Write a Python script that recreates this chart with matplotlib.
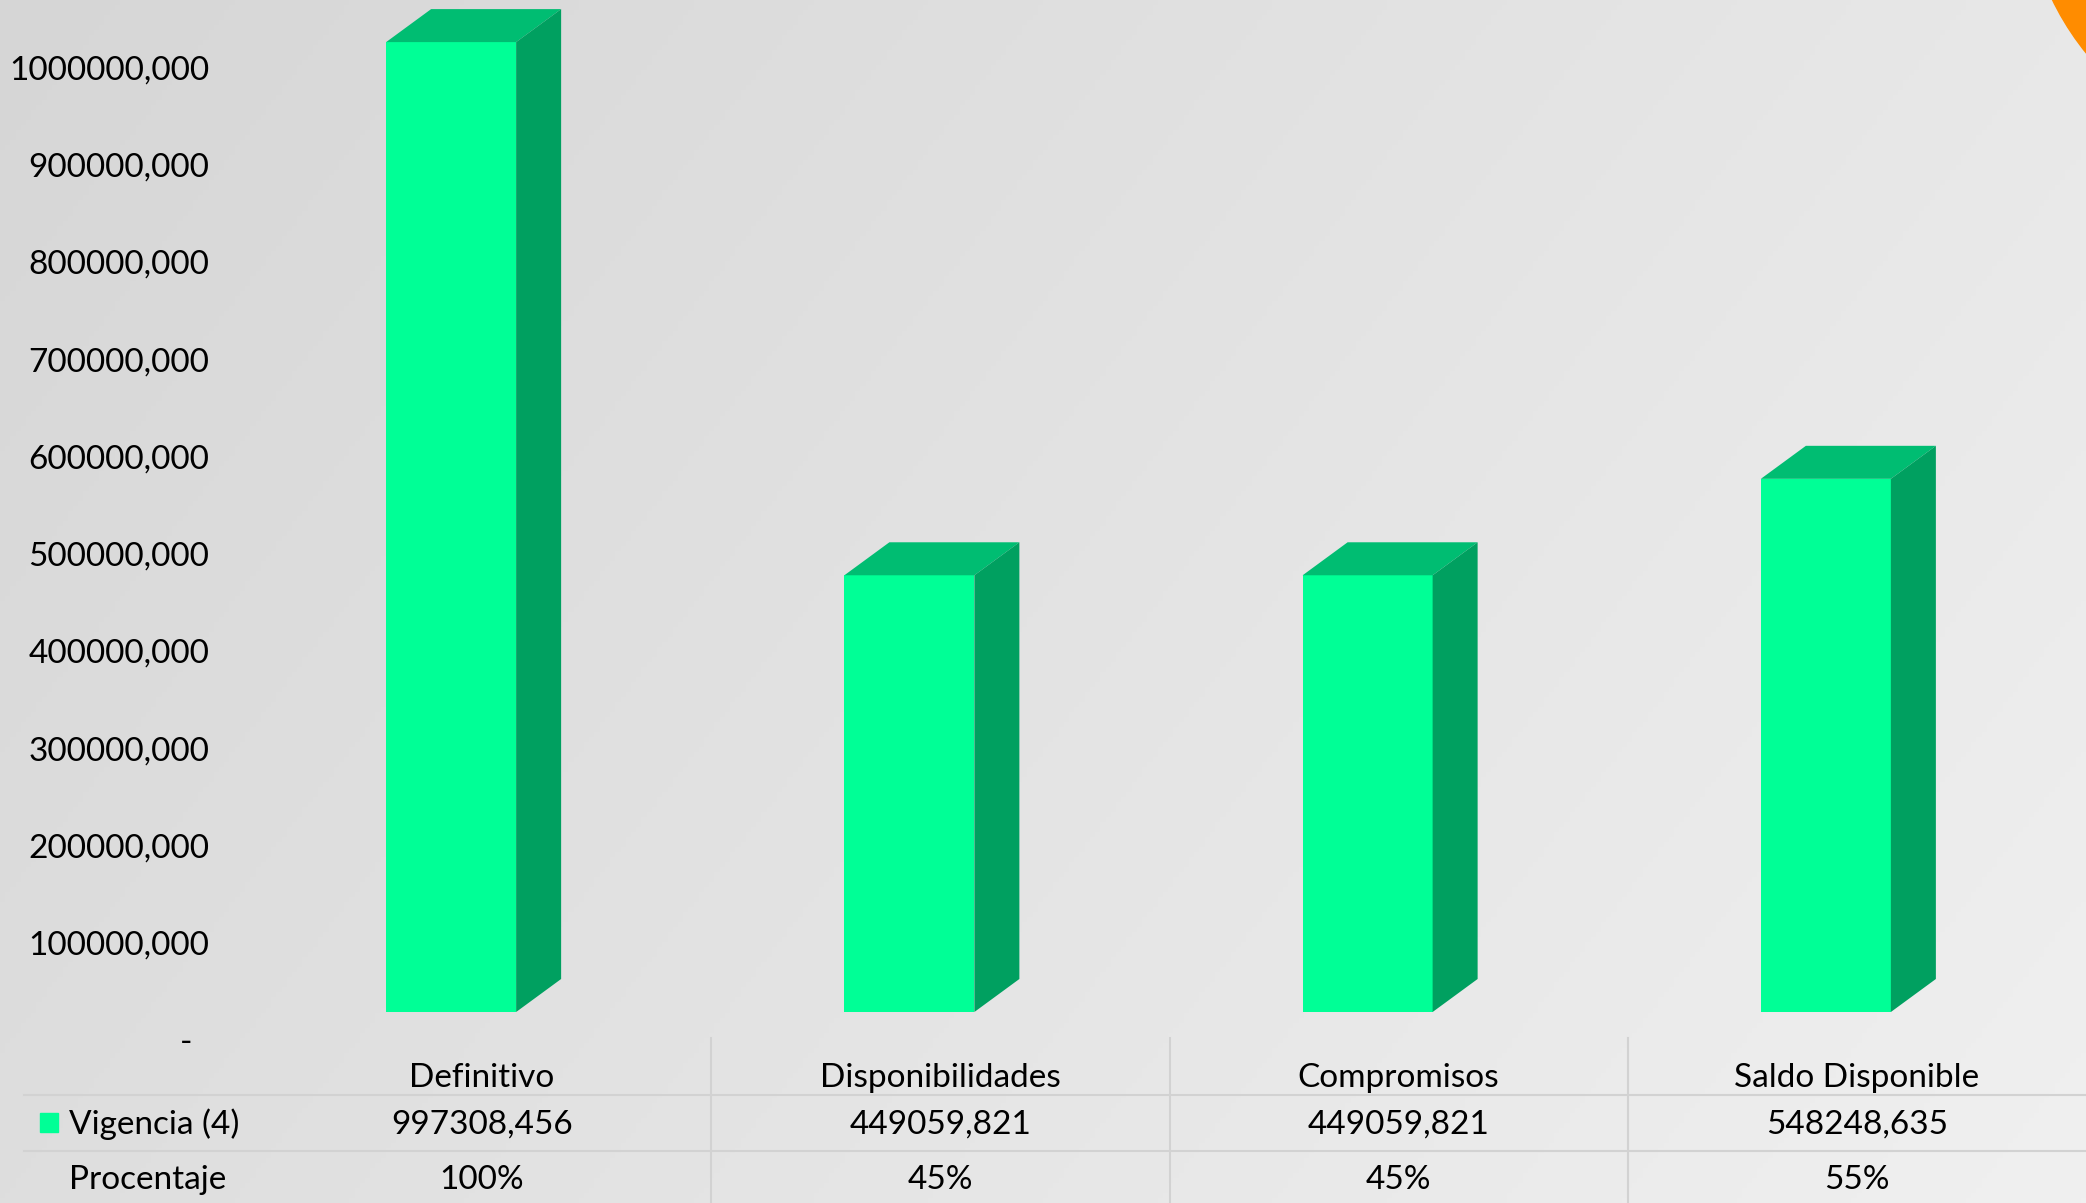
import numpy as np
import matplotlib.pyplot as plt
import matplotlib.transforms as mtransforms
from matplotlib.patches import Rectangle, Polygon, Circle

categories = ['Definitivo', 'Disponibilidades', 'Compromisos', 'Saldo Disponible']
vigencia = [997308456, 449059821, 449059821, 548248635]
series_name = 'Vigencia (4)'
pct_name = 'Procentaje'
yticks = np.arange(0, 1000000001, 100000000)


def fmt(v):
    v = int(v)
    if v == 0:
        return '-  '
    return f'{v // 1000},{v % 1000:03d}'


W, H = 2086, 1203
DPI = 100
plt.rcParams['font.family'] = ['Lato', 'DejaVu Sans']
FS = 24

front_c = '#00ff96'
top_c = '#00bd72'
side_c = '#00a060'
grid_c = '#d2d2d2'

fig = plt.figure(figsize=(W / DPI, H / DPI), dpi=DPI)

# background: light grey gradient + orange corner shape, pixel coordinates
bg = fig.add_axes([0, 0, 1, 1], zorder=-10)
xx, yy = np.meshgrid(np.linspace(0, 1, 400), np.linspace(0, 1, 240))
shade = (214 + 18 * xx + 8 * yy) / 255
bg.imshow(np.dstack([shade] * 3), aspect='auto', extent=[0, W, 0, H], origin='upper')
bg.add_patch(Circle((2300, H + 120), 275, color='#ff8c00'))
bg.set_xlim(0, W)
bg.set_ylim(0, H)
bg.axis('off')

# data table grid
left = 253
col_w = (W - left) / len(categories)
for y in (1095, 1151):
    bg.plot([24, W], [H - y, H - y], color=grid_c, lw=1.5)
for i in range(1, len(categories)):
    x = left + col_w * i
    bg.plot([x, x], [0, H - 1038], color=grid_c, lw=1.5)
bg.add_patch(Rectangle((40, H - 1132), 18, 19, color=front_c))

# bar area
bottom = 191
ymax = 1040.6e6
ax = fig.add_axes([left / W, bottom / H, (W - left) / W, (H - bottom) / H])
ax.set_xlim(-0.5, len(categories) - 0.5)
ax.set_ylim(0, ymax)
ax.patch.set_alpha(0)
for s in ax.spines.values():
    s.set_visible(False)

px_y = (H - bottom) / ymax
front_w = 130 / col_w
shift = -31 / col_w
dx = 45 / col_w
dy = 33 / px_y

for i, v in enumerate(vigencia):
    x0 = i + shift - front_w / 2
    x1 = x0 + front_w
    ax.add_patch(Rectangle((x0, 0), front_w, v, fc=front_c, lw=0, clip_on=False))
    ax.add_patch(Polygon([(x0, v), (x1, v), (x1 + dx, v + dy), (x0 + dx, v + dy)],
                         closed=True, fc=top_c, lw=0, clip_on=False))
    ax.add_patch(Polygon([(x1, 0), (x1 + dx, dy), (x1 + dx, v + dy), (x1, v)],
                         closed=True, fc=side_c, lw=0, clip_on=False))

ax.set_xticks([])
ax.set_yticks(yticks)
ax.set_yticklabels([fmt(t) for t in yticks])
ax.tick_params(axis='y', length=0, pad=31.5, labelsize=FS)
offset = mtransforms.ScaledTranslation(0, -0.28, fig.dpi_scale_trans)
for lab in ax.get_yticklabels():
    lab.set_transform(lab.get_transform() + offset)

# table text
pct = [f'{round(v / vigencia[0] * 100)}%' for v in vigencia]
for i, cat in enumerate(categories):
    cx = (left + col_w * (i + 0.5)) / W
    fig.text(cx, 1 - 1087 / H, cat, ha='center', va='baseline', fontsize=FS)
    fig.text(cx, 1 - 1134 / H, fmt(vigencia[i]), ha='center', va='baseline', fontsize=FS)
    fig.text(cx, 1 - 1189 / H, pct[i], ha='center', va='baseline', fontsize=FS)
fig.text(69 / W, 1 - 1134 / H, series_name, ha='left', va='baseline', fontsize=FS)
fig.text(69 / W, 1 - 1189 / H, pct_name, ha='left', va='baseline', fontsize=FS)

fig.savefig('out.png', dpi=DPI)
